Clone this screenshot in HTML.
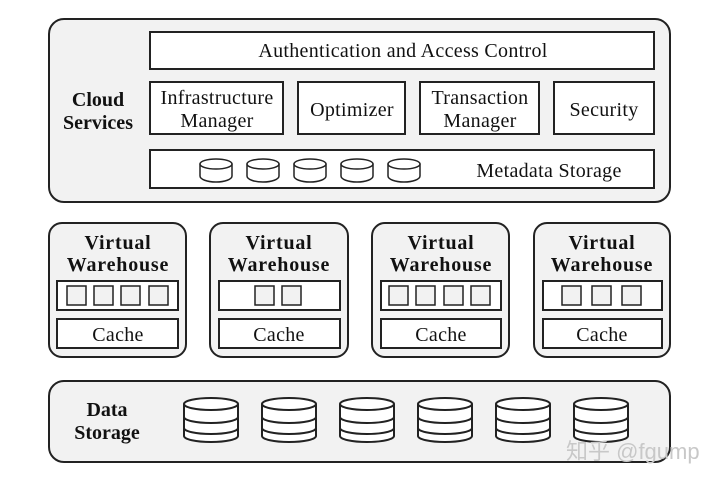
<!DOCTYPE html>
<html><head><meta charset="utf-8"><style>
html,body{margin:0;padding:0;background:#fff;}
svg{display:block;}
text{font-family:"Liberation Serif",serif;fill:#111;}
.b{font-weight:bold;}
</style></head><body>
<svg width="720" height="484" viewBox="0 0 720 484" xmlns="http://www.w3.org/2000/svg">
<defs>
<g id="cyl" fill="#fff" stroke="#222" stroke-width="1.5">
  <path d="M-16,-6 L-16,6 A16,6 0 0 0 16,6 L16,-6"/>
  <ellipse cx="0" cy="-6" rx="16" ry="5"/>
</g>
<g id="big" fill="#fff" stroke="#222" stroke-width="2">
  <path d="M-27,-16 L-27,16 A27,6 0 0 0 27,16 L27,-16"/>
  <path d="M-27,-3 A27,6 0 0 0 27,-3" fill="none"/>
  <path d="M-27,8 A27,6 0 0 0 27,8" fill="none"/>
  <ellipse cx="0" cy="-16" rx="27" ry="6"/>
</g>
</defs>
<g stroke="#222" stroke-width="2">
<rect x="49" y="19" width="621" height="183" rx="15" fill="#f2f2f2"/>
<rect x="150" y="32" width="504" height="37" fill="#fff"/>
<rect x="150" y="82" width="133" height="52" fill="#fff"/>
<rect x="298" y="82" width="107" height="52" fill="#fff"/>
<rect x="420" y="82" width="119" height="52" fill="#fff"/>
<rect x="554" y="82" width="100" height="52" fill="#fff"/>
<rect x="150" y="150" width="504" height="38" fill="#fff"/>
</g>
<use href="#cyl" x="216" y="170"/><use href="#cyl" x="263" y="170"/><use href="#cyl" x="310" y="170"/><use href="#cyl" x="357" y="170"/><use href="#cyl" x="404" y="170"/>
<g font-size="20" text-anchor="middle" letter-spacing="0.3">
<text x="403" y="57">Authentication and Access Control</text>
<text x="217" y="104">Infrastructure</text>
<text x="217" y="127">Manager</text>
<text x="352" y="116">Optimizer</text>
<text x="480" y="104">Transaction</text>
<text x="480" y="127">Manager</text>
<text x="604" y="116">Security</text>
<text x="549" y="177">Metadata Storage</text>
</g>
<text x="98" y="106" font-size="20" text-anchor="middle" class="b">Cloud</text>
<text x="98" y="129" font-size="20" text-anchor="middle" class="b">Services</text>

<g stroke="#222" stroke-width="2">
<rect x="49" y="223" width="137" height="134" rx="13" fill="#f2f2f2"/>
<rect x="210" y="223" width="138" height="134" rx="13" fill="#f2f2f2"/>
<rect x="372" y="223" width="137" height="134" rx="13" fill="#f2f2f2"/>
<rect x="534" y="223" width="136" height="134" rx="13" fill="#f2f2f2"/>
<rect x="57" y="281" width="121" height="29" fill="#fff"/>
<rect x="219" y="281" width="121" height="29" fill="#fff"/>
<rect x="381" y="281" width="120" height="29" fill="#fff"/>
<rect x="543" y="281" width="119" height="29" fill="#fff"/>
<rect x="57" y="319" width="121" height="29" fill="#fff"/>
<rect x="219" y="319" width="121" height="29" fill="#fff"/>
<rect x="381" y="319" width="120" height="29" fill="#fff"/>
<rect x="543" y="319" width="119" height="29" fill="#fff"/>
</g>
<g stroke="#222" stroke-width="1.5" fill="#f2f2f2">
<rect x="67" y="286" width="19" height="19"/><rect x="94" y="286" width="19" height="19"/><rect x="121" y="286" width="19" height="19"/><rect x="149" y="286" width="19" height="19"/>
<rect x="255" y="286" width="19" height="19"/><rect x="282" y="286" width="19" height="19"/>
<rect x="389" y="286" width="19" height="19"/><rect x="416" y="286" width="19" height="19"/><rect x="444" y="286" width="19" height="19"/><rect x="471" y="286" width="19" height="19"/>
<rect x="562" y="286" width="19" height="19"/><rect x="592" y="286" width="19" height="19"/><rect x="622" y="286" width="19" height="19"/>
</g>
<g font-size="20" text-anchor="middle" letter-spacing="0.8">
<text x="118" y="249" class="b">Virtual</text><text x="118" y="271" class="b">Warehouse</text>
<text x="279" y="249" class="b">Virtual</text><text x="279" y="271" class="b">Warehouse</text>
<text x="441" y="249" class="b">Virtual</text><text x="441" y="271" class="b">Warehouse</text>
<text x="602" y="249" class="b">Virtual</text><text x="602" y="271" class="b">Warehouse</text>
</g>
<g font-size="20" text-anchor="middle" letter-spacing="0.3">
<text x="118" y="341">Cache</text><text x="279" y="341">Cache</text><text x="441" y="341">Cache</text><text x="602" y="341">Cache</text>
</g>

<rect x="49" y="381" width="621" height="81" rx="15" fill="#f2f2f2" stroke="#222" stroke-width="2"/>
<text x="107" y="416" font-size="20" text-anchor="middle" class="b">Data</text>
<text x="107" y="439" font-size="20" text-anchor="middle" class="b">Storage</text>
<use href="#big" x="211" y="420"/><use href="#big" x="289" y="420"/><use href="#big" x="367" y="420"/><use href="#big" x="445" y="420"/><use href="#big" x="523" y="420"/><use href="#big" x="601" y="420"/>
<text x="566" y="459" font-size="22" style="font-family:'Liberation Sans','Noto Sans CJK SC',sans-serif;fill:#c8c8c8;">知乎 @fgump</text>
</svg>
</body></html>
